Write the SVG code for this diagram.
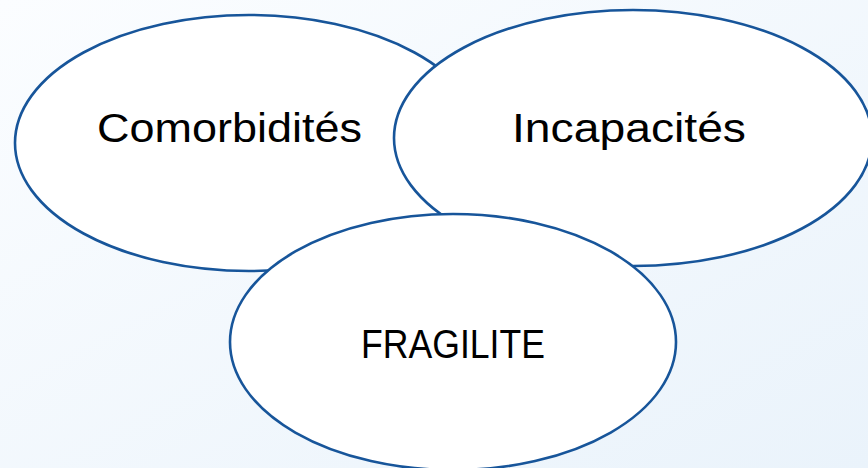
<svg xmlns="http://www.w3.org/2000/svg" width="868" height="468" viewBox="0 0 868 468">
  <defs>
    <linearGradient id="bg" x1="0" y1="0" x2="1" y2="1">
      <stop offset="0" stop-color="#fbfdff"/>
      <stop offset="1" stop-color="#eaf3fb"/>
    </linearGradient>
    <style>
      .node { fill: #ffffff; stroke: #17559a; stroke-width: 2.6; }
      .label { font-family: "Liberation Sans", Arial, sans-serif; font-size: 41px; fill: #000000; text-anchor: middle; }
    </style>
  </defs>
  <rect x="0" y="0" width="868" height="468" fill="url(#bg)"/>
  <g id="connectors"/>
  <g id="comorbidites">
    <ellipse class="node" cx="249" cy="143" rx="234" ry="128"/>
    <text class="label" x="229.5" y="142" textLength="265" lengthAdjust="spacingAndGlyphs">Comorbidités</text>
  </g>
  <g id="incapacites">
    <ellipse class="node" cx="633" cy="138" rx="239" ry="128"/>
    <text class="label" x="629" y="142" textLength="234" lengthAdjust="spacingAndGlyphs">Incapacités</text>
  </g>
  <g id="fragilite">
    <ellipse class="node" cx="453" cy="342" rx="223" ry="128"/>
    <text class="label" x="453" y="358" textLength="184" lengthAdjust="spacingAndGlyphs">FRAGILITE</text>
  </g>
</svg>
